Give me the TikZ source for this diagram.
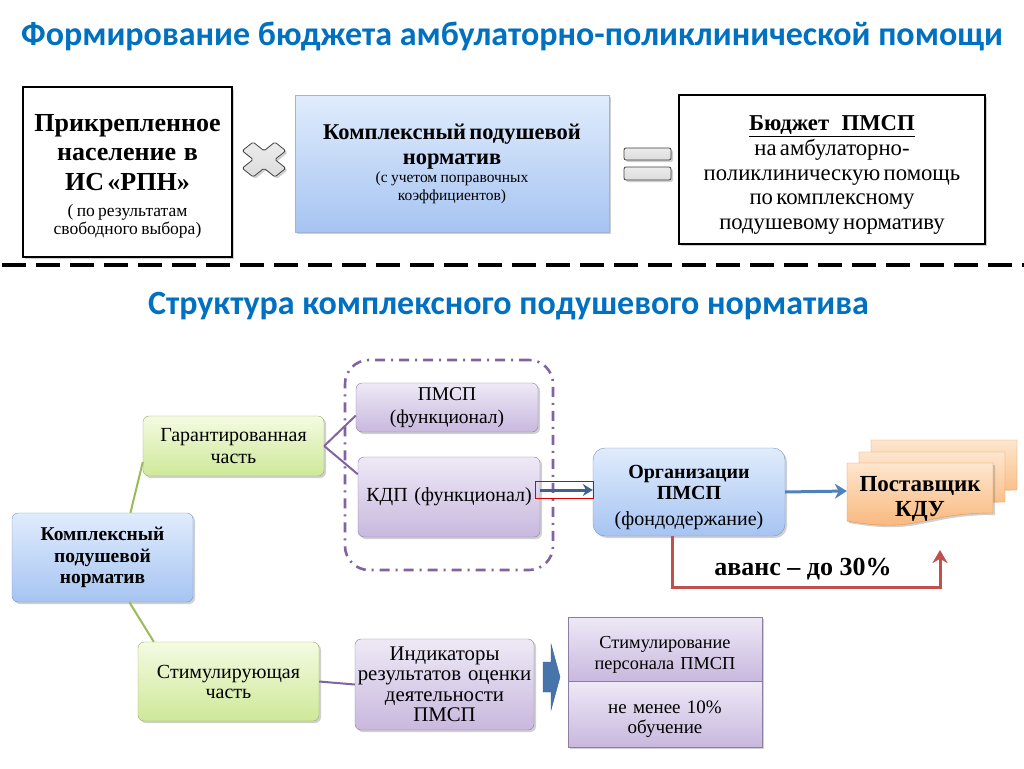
\documentclass[tikz,border=0pt]{standalone}
\usepackage{fontspec}
\setmainfont{Liberation Serif}
\newfontfamily\titlefont{Carlito}
\usetikzlibrary{shadows,arrows.meta}

\definecolor{titleblue}{RGB}{0,112,192}
\definecolor{purpline}{RGB}{128,100,162}
\definecolor{purptop}{RGB}{238,233,246}
\definecolor{purpbot}{RGB}{200,184,222}
\definecolor{purpedge}{RGB}{140,125,165}
\definecolor{greentop}{RGB}{244,251,226}
\definecolor{greenbot}{RGB}{206,232,152}
\definecolor{greenedge}{RGB}{150,175,105}
\definecolor{greenline}{RGB}{155,187,89}
\definecolor{bluetop}{RGB}{224,236,252}
\definecolor{bluebot}{RGB}{166,196,242}
\definecolor{blueedge}{RGB}{120,150,195}
\definecolor{orangetop}{RGB}{253,230,206}
\definecolor{orangebot}{RGB}{249,178,115}
\definecolor{orangeedge}{RGB}{226,150,80}
\definecolor{arrowblue}{RGB}{79,129,189}
\definecolor{arrowsteel}{RGB}{62,100,140}
\definecolor{avansred}{RGB}{192,80,77}
\definecolor{signgray}{RGB}{200,200,200}

\newcommand\fsz[2]{\fontsize{#1}{#2}\selectfont}
\newcommand\topgap[1]{\rule{0pt}{#1}}

\begin{document}
\begin{tikzpicture}[x=1pt,y=-1pt,
  shad/.style={drop shadow={shadow xshift=2pt,shadow yshift=-2pt,opacity=.3,fill=black!60}},
  framebox/.style={draw=black, fill=white, line width=2.6pt, align=center, inner sep=0pt, shad},
  pbox/.style={draw=purpedge, top color=purptop, bottom color=purpbot, rounded corners=6pt, align=center, inner sep=0pt, shad},
  gbox/.style={draw=greenedge, top color=greentop, bottom color=greenbot, rounded corners=6pt, align=center, inner sep=0pt, shad},
  bbox/.style={draw=blueedge, top color=bluetop, bottom color=bluebot, rounded corners=6pt, align=center, inner sep=0pt, shad},
  sign/.style={draw=black!75, line width=.8pt, top color=signgray!35, bottom color=signgray!110!black, shad},
  sheet/.style={draw=orangeedge, top color=orangetop, bottom color=orangebot}]
\useasboundingbox[fill=white] (0,0) rectangle (1024,768);

% top part
\node[font=\titlefont\bfseries\fsz{34}{40}, text=titleblue] (title) at (512,37){Формирование бюджета амбулаторно-поликлинической помощи};

\node[framebox, minimum width=209, minimum height=170, text width=203] (pop) at (127.5,172){\bfseries\fsz{26}{29.5}\topgap{25pt}Прикрепленное\\население\hspace{.3em}в\\ИС «РПН»\par\vspace{8pt}\mdseries\fsz{17.5}{18}( по результатам\\свободного выбора)\par};

\node[bbox, rounded corners=0pt, draw=blueedge!70, minimum width=314, minimum height=137, text width=308] (norm) at (452,163.5){\bfseries\fsz{22.5}{25}Комплексный подушевой\\норматив\par\mdseries\fsz{15.5}{18}(с учетом поправочных\\коэффициентов)\par};

\node[framebox, line width=2.2pt, minimum width=306, minimum height=149, text width=300] (budget) at (832,169.5){\fsz{22.7}{24.8}\topgap{26pt}\underline{\bfseries Бюджет\hspace{.55em}ПМСП}\\на амбулаторно-\\поликлиническую помощь\\по комплексному\\подушевому нормативу\par};

% multiply sign
\begin{scope}[shift={(264,159.5)}, xscale=1.1, yscale=.88, rotate=45]
\path[sign, rounded corners=1.5pt] (7,21) -- (7,7) -- (21,7) -- (21,-7) -- (7,-7) -- (7,-21) -- (-7,-21) -- (-7,-7) -- (-21,-7) -- (-21,7) -- (-7,7) -- (-7,21) -- cycle;
\end{scope}
% equals sign
\path[sign, rounded corners=2pt] (624,148) rectangle (671,160);
\path[sign, rounded corners=2pt] (624,167) rectangle (671,180);

\coordinate (cutL) at (0,265);
\coordinate (cutR) at (1024,265);
\draw[line width=3.5pt, dash pattern=on 24pt off 10pt, dash phase=-2pt] (cutL) -- (cutR);

% structure
\node[font=\titlefont\bfseries\fsz{34}{40}, text=titleblue] (subtitle) at (508.5,306){Структура комплексного подушевого норматива};

\node[draw=purpline, line width=2.6pt, dash pattern=on 10pt off 6pt on 2pt off 6pt, rounded corners=24pt, minimum width=208, minimum height=210] (group) at (449,465){};

\node[gbox, minimum width=181, minimum height=60, text width=177, font=\fsz{20}{22}] (garant) at (233.5,446){Гарантированная\\часть};
\node[bbox, minimum width=181, minimum height=89, text width=177, font=\bfseries\fsz{19.5}{21.5}] (cplx) at (102.5,557.5){Комплексный\\подушевой\\норматив};
\node[gbox, minimum width=181, minimum height=79, text width=177, font=\fsz{20}{20}] (stim) at (228.5,681.5){Стимулирующая\\часть};

\node[pbox, minimum width=182, minimum height=49, text width=178, font=\fsz{19.5}{22.5}] (pmsp) at (447,407.5){ПМСП\\(функционал)};
\node[pbox, minimum width=182, minimum height=80, text width=178, font=\fsz{20}{22}] (kdp) at (449,497){КДП (функционал)};
\node[pbox, minimum width=179, minimum height=91, text width=175, font=\fsz{20.8}{20.5}] (indic) at (444.5,684.5){Индикаторы\\результатов оценки\\деятельности\\ПМСП};

\node[pbox, rounded corners=0pt, minimum width=194, minimum height=64, text width=190, font=\fsz{18.3}{21}] (pers) at (665,649){\topgap{23pt}Стимулирование\\персонала ПМСП\par};
\node[pbox, rounded corners=0pt, shad/.style={}, minimum width=194, minimum height=66, text width=190, font=\fsz{19}{20}] (edu) at (665,714){\topgap{23.5pt}не менее 10\%\\обучение\par};

\node[bbox, rounded corners=12pt, minimum width=192, minimum height=88, text width=188, font=\fsz{20}{21.5}] (org) at (689,492){\bfseries\topgap{23.5pt}Организации\\ПМСП\par\vspace{3pt}\mdseries\fsz{20}{22.5}(фондодержание)\par};

% supplier, three sheets
\path[sheet] (871,440) -- (1017,440) -- (1017,490) .. controls (944,490) and (944,508) .. (871,506) -- cycle;
\path[sheet] (859,452) -- (1005,452) -- (1005,502) .. controls (932,502) and (932,520) .. (859,518) -- cycle;
\path[sheet, shad] (847,463) -- (993,463) -- (993,513) .. controls (920,513) and (920,534) .. (847,521) -- cycle;
\node[font=\bfseries\fsz{23}{26}, align=center] (supp) at (920,499){Поставщик\\[-1pt]КДУ};
\node[minimum width=146, minimum height=60, inner sep=0pt] (suppbox) at (920,491){};

% block arrow
\path[fill=arrowblue!90!black, draw=arrowsteel] (543,662) -- (551,662) -- (551,644) -- (560,677) -- (551,710) -- (551,692) -- (543,692) -- cycle;

% connectors
\draw[greenline, line width=2pt](cplx.58) -- (garant.190);
\draw[greenline, line width=2pt](cplx.-59) -- (stim.152);
\draw[purpline, line width=2pt](garant.east) -- (pmsp.185);
\draw[purpline, line width=2pt](garant.east) -- (kdp.166);
\draw[purpline, line width=2pt](stim.east) -- (indic.west);

\draw[red!85!black, line width=.7pt] (535,481) rectangle (593,498);
\draw[arrowsteel, line width=3pt, -{Stealth[length=10pt,width=12pt]}](kdp.east |- 0,490) -- (org.west |- 0,490);
\draw[arrowblue, line width=3pt, -{Stealth[length=12pt,width=15pt]}](org.east) -- (suppbox.west);

\coordinate (avansR) at (940,550);
\draw[avansred, line width=3pt, -{Stealth[length=13pt,width=15pt]}](org.south -| 672,0) |- (940,587) -- (avansR);
\node[font=\bfseries\fsz{26}{28}] (avans) at (803,569){аванс -- до 30\%};
\end{tikzpicture}
\end{document}
